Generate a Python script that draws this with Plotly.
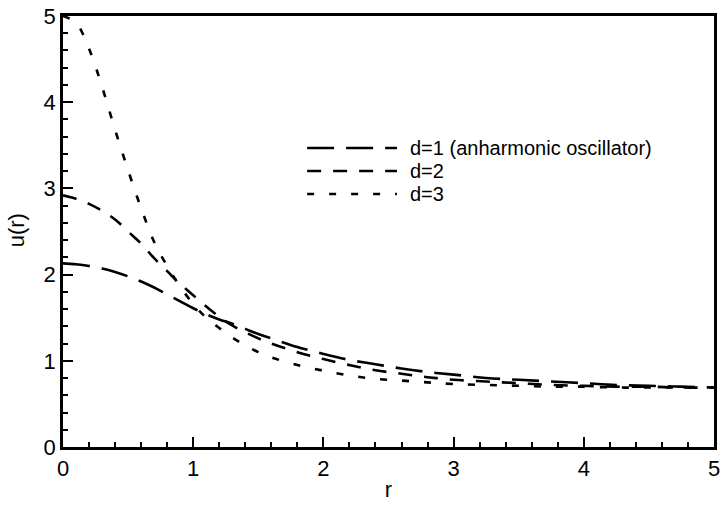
import plotly.graph_objects as go

r_vals = [0, 0.1, 0.2, 0.3, 0.4, 0.5, 0.6, 0.7, 0.8, 0.9, 1.0, 1.1, 1.2, 1.3, 1.4, 1.5,
          1.6, 1.8, 2.0, 2.2, 2.4, 2.6, 2.8, 3.0, 3.25, 3.5, 3.75, 4.0, 4.25, 4.5, 4.75, 5.0]
u_d1 = [2.13, 2.12, 2.10, 2.07, 2.03, 1.98, 1.92, 1.85, 1.77, 1.69, 1.61, 1.54, 1.48, 1.43, 1.37, 1.31,
        1.26, 1.16, 1.08, 1.01, 0.96, 0.91, 0.87, 0.84, 0.80, 0.78, 0.76, 0.74, 0.72, 0.71, 0.70, 0.69]
u_d2 = [2.92, 2.88, 2.82, 2.74, 2.64, 2.50, 2.36, 2.19, 2.04, 1.89, 1.76, 1.63, 1.51, 1.41, 1.33, 1.26,
        1.20, 1.10, 1.02, 0.95, 0.89, 0.85, 0.81, 0.78, 0.76, 0.74, 0.72, 0.71, 0.70, 0.70, 0.69, 0.69]
u_d3 = [5.0, 4.92, 4.62, 4.18, 3.68, 3.21, 2.77, 2.38, 2.10, 1.86, 1.66, 1.50, 1.38, 1.27, 1.18, 1.10,
        1.04, 0.95, 0.885, 0.83, 0.79, 0.77, 0.75, 0.73, 0.72, 0.71, 0.70, 0.70, 0.69, 0.69, 0.69, 0.69]

series_names = ["d=1 (anharmonic oscillator)", "d=2", "d=3"]
series_vals = [u_d1, u_d2, u_d3]
dashes = ["27px,12px", "14px,12px", "7px,15px"]

FONT = "Liberation Sans, Arial, Helvetica, sans-serif"

fig = go.Figure()
for name, vals, dash in zip(series_names, series_vals, dashes):
    fig.add_trace(go.Scatter(x=r_vals, y=vals, mode="lines", name=name,
                             line=dict(color="black", width=2.6, dash=dash, shape="spline"),
                             showlegend=False, hoverinfo="skip"))

# legend drawn as keys + labels in paper space
legend_y = [0.6937, 0.6404, 0.587]
for name, dash, yy in zip(series_names, dashes, legend_y):
    fig.add_shape(type="line", xref="paper", yref="paper", x0=0.375, x1=0.513, y0=yy, y1=yy,
                  line=dict(color="black", width=2.6, dash=dash))
    fig.add_annotation(xref="paper", yref="paper", x=0.531, y=yy, text=name, showarrow=False,
                       xanchor="left", yanchor="middle", borderpad=0,
                       font=dict(family=FONT, size=20, color="black"))

for ax in ("xaxis", "yaxis"):
    fig.layout[ax].update(
        range=[0, 5], dtick=1, tick0=0, tickmode="linear",
        showline=True, linecolor="black", linewidth=2.5, mirror=True,
        ticks="inside", ticklen=10, tickwidth=2, tickcolor="black",
        showgrid=False, zeroline=False, automargin=False, layer="above traces",
        tickfont=dict(family=FONT, size=22, color="black"),
        minor=dict(dtick=0.2, tick0=0, ticks="inside", ticklen=5, tickwidth=1.5, tickcolor="black", showgrid=False),
    )
fig.layout.xaxis.title = dict(text="r", font=dict(family=FONT, size=22, color="black"), standoff=2)
fig.add_annotation(xref="paper", yref="paper", x=-0.072, y=0.503, text="u(r)", textangle=-90,
                   showarrow=False, xanchor="center", yanchor="middle",
                   font=dict(family=FONT, size=22, color="black"))

fig.update_layout(width=721, height=509, margin=dict(l=63, r=7, t=16, b=62),
                  paper_bgcolor="white", plot_bgcolor="white", showlegend=False)

fig.write_html("out.html", config={"displayModeBar": False},
               post_script="document.body.style.margin='0';")
